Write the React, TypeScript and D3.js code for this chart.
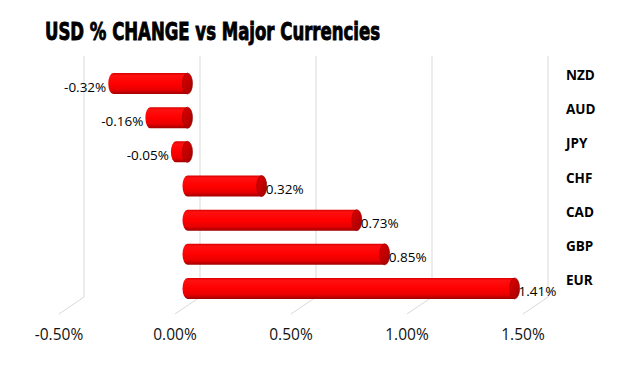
import React from "react";
import * as d3 from "d3";

const categories = ["NZD", "AUD", "JPY", "CHF", "CAD", "GBP", "EUR"];
const values = [-0.32, -0.16, -0.05, 0.32, 0.73, 0.85, 1.41];
const ticks = [-0.5, 0, 0.5, 1.0, 1.5];
const title = "USD % CHANGE vs Major Currencies";

const W = 642, H = 366;
const DX = -25, DY = 17; // depth offset back -> front

export default function App() {
  const x = d3.scaleLinear().domain([-0.5, 1.5]).range([84, 548]);
  const y = d3.scaleBand().domain(categories).range([58, 297]).paddingInner(0).paddingOuter(0);
  const fmt = (v: number) => v.toFixed(2) + "%";
  const barH = 21;
  const rx = 5;
  const mx = DX / 2, my = DY / 2;
  const top = 56, bottom = 297;

  return (
    <svg width={W} height={H} style={{ display: "block", position: "absolute", left: 0, top: 0 }}>
      <defs>
        <linearGradient id="cyl" x1="0" y1="0" x2="0" y2="1">
          <stop offset="0" stopColor="#d80000" />
          <stop offset="0.12" stopColor="#ff1010" />
          <stop offset="0.5" stopColor="#ff0000" />
          <stop offset="0.8" stopColor="#e80000" />
          <stop offset="1" stopColor="#a00000" />
        </linearGradient>
        <linearGradient id="cap" x1="0" y1="0" x2="1" y2="1">
          <stop offset="0" stopColor="#e00000" />
          <stop offset="1" stopColor="#a00000" />
        </linearGradient>
      </defs>
      <rect width={W} height={H} fill="#fff" />
      <text x={45} y={40} fontFamily="'DejaVu Sans Condensed', 'DejaVu Sans'" fontWeight="bold"
        fontSize={25} textLength={335} lengthAdjust="spacingAndGlyphs" fill="#000" stroke="#000" strokeWidth={0.9}>{title}</text>
      {ticks.map((t) => (
        <g key={t}>
          <line x1={x(t)} x2={x(t)} y1={top} y2={bottom} stroke="#d9d9d9" strokeWidth={1} />
          <line x1={x(t)} x2={x(t) + DX} y1={bottom} y2={bottom + DY} stroke="#d9d9d9" strokeWidth={1} />
          <text x={x(t) + DX} y={340} textAnchor="middle" fontFamily="'Open Sans', sans-serif" fontSize={15.5} fill="#111">
            {fmt(t)}
          </text>
        </g>
      ))}
      {categories.map((c, i) => {
        const v = values[i];
        const cy = (y(c) as number) + y.bandwidth() / 2 + my;
        const x0 = Math.min(x(0), x(v)) + mx;
        const x1 = Math.max(x(0), x(v)) + mx;
        const t = cy - barH / 2, b = cy + barH / 2;
        const ry = barH / 2;
        const body = `M${x1},${t} L${x0},${t} A${rx},${ry} 0 0 0 ${x0},${b} L${x1},${b} Z`;
        return (
          <g key={c}>
            <path d={body} fill="url(#cyl)" />
            <ellipse cx={x1} cy={cy} rx={rx} ry={ry} fill="url(#cap)" stroke="#900000" strokeWidth={0.6} />
            <text x={v >= 0 ? x1 + rx - 1 : x0 - rx - 2} y={cy + 8} textAnchor={v >= 0 ? "start" : "end"}
              fontFamily="'Open Sans', sans-serif" fontSize={13.5} fill="#000">{fmt(v)}</text>
          </g>
        );
      })}
      {categories.map((c) => (
        <text key={c} x={566} y={(y(c) as number) + y.bandwidth() / 2 + 5} fontFamily="'Open Sans', sans-serif"
          fontWeight="bold" fontSize={13.5} fill="#000">{c}</text>
      ))}
    </svg>
  );
}
